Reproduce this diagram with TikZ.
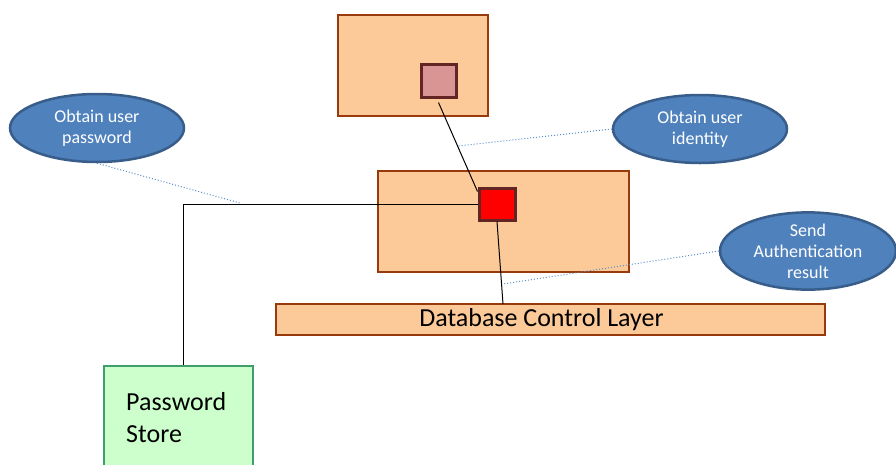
\documentclass[tikz,border=0pt]{standalone}
\usepackage{fontspec}
\setmainfont{Carlito}
\usetikzlibrary{shapes.geometric}
\definecolor{peach}{RGB}{252,202,152}
\definecolor{peachline}{RGB}{152,58,12}
\definecolor{sqline}{RGB}{99,37,35}
\definecolor{pink}{RGB}{217,149,148}
\definecolor{mint}{RGB}{204,255,204}
\definecolor{mintline}{RGB}{64,158,106}
\definecolor{ellfill}{RGB}{79,129,189}
\definecolor{ellline}{RGB}{56,93,138}
\definecolor{dotblue}{RGB}{90,140,200}
\tikzset{
  box/.style={draw=peachline, fill=peach, line width=2.5pt, rectangle, inner sep=0pt},
  sqbox/.style={draw=sqline, line width=3pt, rectangle, inner sep=0pt},
  ell/.style={ellipse, draw=ellline, fill=ellfill, line width=2.5pt, inner sep=0pt,
    text=white, align=center, font=\fontsize{18}{21}\selectfont,
    minimum width=174pt, minimum height=68pt},
  conn/.style={draw=black, line width=1pt},
  dotc/.style={draw=dotblue, line width=1pt, dotted},
}
\begin{document}
\begin{tikzpicture}[x=1pt,y=-1pt]
\useasboundingbox (0,0) rectangle (896,464);
\node[box, minimum width=150pt, minimum height=101pt] (top) at (413,65.5) {};
\node[sqbox, fill=pink, minimum width=35pt, minimum height=33pt] (sq1) at (438.5,80.5) {};
\node[box, minimum width=251pt, minimum height=101pt] (mid) at (503.5,221.5) {};
\node[sqbox, fill=red, minimum width=36pt, minimum height=32pt] (sq2) at (497,204) {};
\node[box, minimum width=549pt, minimum height=31pt, font=\fontsize{26}{30}\selectfont] (db) at (550.5,319.5) {\hspace*{-18pt}Database Control Layer};
\node[draw=mintline, fill=mint, line width=2.5pt, rectangle, inner sep=0pt, minimum width=149pt, minimum height=110pt] (ps) at (178.5,421) {};
\node[anchor=north west, align=left, inner sep=0pt, font=\fontsize{26}{32}\selectfont] (pst) at (126,392) {Password\\Store};
\node[ell] (e1) at (97,128) {Obtain user\\password};
\node[ell] (e2) at (700,129) {Obtain user\\identity};
\node[ell, minimum width=176pt] (e3) at (808,251) {Send\\Authentication\\result};
\coordinate (j) at (183,204);
\coordinate (dbin) at (503,304);
\coordinate (d1) at (240,203);
\coordinate (d2) at (458,146);
\coordinate (d3) at (503,284);
\draw[conn] ([yshift=-4pt]sq1.south) -- ([yshift=-5pt]sq2.north west);
\draw[conn] (sq2.west) -- (j) -- (j |- ps.north);
\draw[conn] (sq2.south) -- (dbin);
\draw[dotc] (e1.south) -- (d1);
\draw[dotc] (e2.west) -- (d2);
\draw[dotc] (e3.west) -- (d3);
\end{tikzpicture}
\end{document}
